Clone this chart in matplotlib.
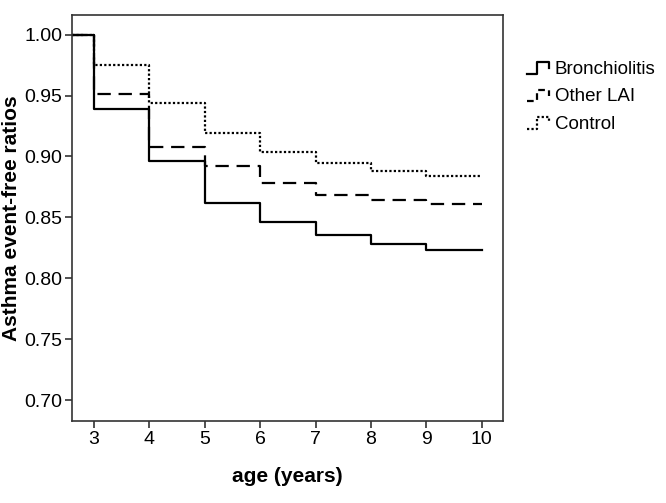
import matplotlib
matplotlib.use("Agg")
import matplotlib.pyplot as plt
from matplotlib.legend_handler import HandlerBase
from matplotlib.lines import Line2D

plt.rcParams['font.family'] = ['Liberation Sans', 'DejaVu Sans']

ages = [3, 4, 5, 6, 7, 8, 9, 10]
bronchiolitis = [0.939, 0.896, 0.862, 0.846, 0.836, 0.828, 0.823, 0.823]
other_lai = [0.951, 0.908, 0.892, 0.878, 0.868, 0.864, 0.861, 0.861]
control = [0.975, 0.944, 0.919, 0.904, 0.895, 0.888, 0.884, 0.884]
start_age = 2.6
start_value = 1.0
labels = ['Bronchiolitis', 'Other LAI', 'Control']
styles = ['-', (0, (6, 3.5)), (0, (1, 1))]
yticks = [0.70, 0.75, 0.80, 0.85, 0.90, 0.95, 1.00]
xticks = [3, 4, 5, 6, 7, 8, 9, 10]

fig = plt.figure(figsize=(6.66, 5.03), dpi=100)
ax = fig.add_axes([0.108, 0.163, 0.647, 0.807])

series = [bronchiolitis, other_lai, control]
handles = []
for vals, ls, lab in zip(series, styles, labels):
    xs = [start_age] + ages
    ys = [start_value] + vals
    h, = ax.step(xs, ys, where='post', color='black', linestyle=ls, lw=1.6, label=lab)
    handles.append(h)

ax.set_xlim(2.6, 10.38)
ax.set_ylim(0.683, 1.016)
ax.set_xticks(xticks)
ax.set_yticks(yticks)
ax.set_yticklabels([f"{v:.2f}" for v in yticks])
ax.tick_params(labelsize=14, length=5, width=1.2, color='#333333', pad=2)
for s in ax.spines.values():
    s.set_linewidth(1.2)
    s.set_color('#333333')
ax.set_xlabel('age (years)', fontsize=15, fontweight='bold', labelpad=14)
ax.set_ylabel('Asthma event-free ratios', fontsize=15, fontweight='bold', labelpad=2)


class StepHandler(HandlerBase):
    def __init__(self, ls):
        super().__init__()
        self.ls = ls

    def create_artists(self, legend, orig_handle, xdescent, ydescent, width, height, fontsize, trans):
        x0 = -xdescent
        w = width
        h = height
        xs = [x0, x0 + 0.4 * w, x0 + 0.4 * w, x0 + 0.85 * w, x0 + 0.85 * w]
        ys = [0.0 * h, 0.0 * h, 0.9 * h, 0.9 * h, 0.45 * h]
        ln = Line2D(xs, ys, color='black', linestyle=self.ls, lw=1.6)
        ln.set_transform(trans)
        return [ln]


ls_small = ['-', (0, (3, 2)), (0, (1, 1))]
fig.legend(handles, labels, loc='upper left', bbox_to_anchor=(0.791, 0.879), frameon=False,
           fontsize=13.5, handler_map={h: StepHandler(s) for h, s in zip(handles, ls_small)},
           handlelength=1.4, handletextpad=0.1, labelspacing=0.55, borderpad=0,
           borderaxespad=0)

fig.savefig('out.png', dpi=100)
